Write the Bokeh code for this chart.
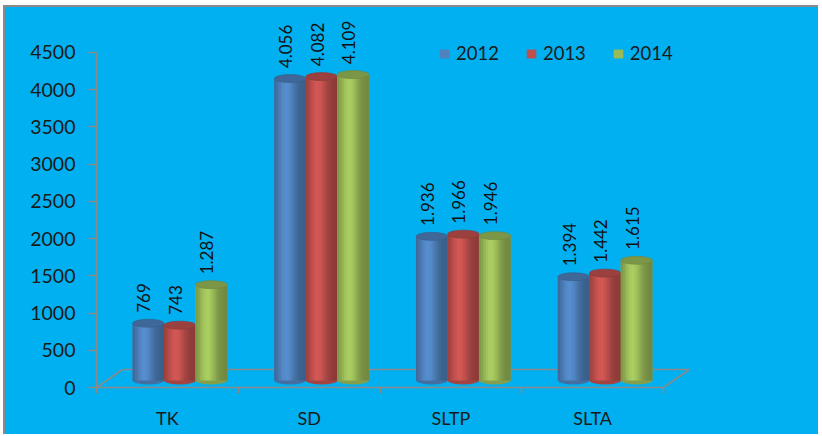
import math
from bokeh.plotting import figure
from bokeh.models import Range1d, FixedTicker, Legend, LegendItem, ColumnDataSource
from bokeh.core.properties import value
from bokeh.embed import file_html
from bokeh.resources import INLINE

categories = ["TK", "SD", "SLTP", "SLTA"]
years = ["2012", "2013", "2014"]
values_2012 = [769, 4056, 1936, 1394]
values_2013 = [743, 4082, 1966, 1442]
values_2014 = [1287, 4109, 1946, 1615]
y_ticks = [0, 500, 1000, 1500, 2000, 2500, 3000, 3500, 4000, 4500]

series = [values_2012, values_2013, values_2014]
base_colors = [(79, 129, 189), (192, 80, 77), (155, 187, 89)]

BG = "#00B0F0"
GREY = "#8a8a8a"
FONT = "Lato"

p = figure(width=815, height=429,
           x_range=Range1d(0, 4.261), y_range=Range1d(0, 5037),
           min_border_left=91, min_border_right=120, min_border_top=5, min_border_bottom=49,
           output_backend="svg", toolbar_location=None)
p.styles = {"margin-left": "3px", "margin-top": "5px", "background-color": BG,
            "border-left": "2px solid #8a8a8a", "border-top": "2px solid #8a8a8a"}
p.background_fill_alpha = 0
p.border_fill_alpha = 0
p.outline_line_color = None
p.grid.visible = False

# floor (3D base)
depth_x = 0.183
depth_y = 242
p.segment(x0=[0, depth_x, 4], y0=[0, depth_y, 0],
          x1=[depth_x, 4 + depth_x, 4 + depth_x], y1=[depth_y, depth_y, depth_y],
          line_color=GREY, line_width=1.6)

def shade(rgb, m):
    return "#%02x%02x%02x" % tuple(max(0, min(255, int(round(c * m)))) for c in rgb)

def mult(t):
    return 0.72 + 0.38 * math.exp(-((t - 0.38) / 0.30) ** 2)

bar_w = 0.222
shift = 0.088
base = 94
N = 14

legend_renderers = []
for si, (vals, rgb) in enumerate(zip(series, base_colors)):
    off = (si - 1) * bar_w
    xs = [i + 0.5 + shift + off for i in range(len(categories))]
    tops = [base + v for v in vals]
    src = ColumnDataSource(dict(x=xs, top=tops, bottom=[base] * len(xs)))
    r = p.vbar(x="x", top="top", bottom="bottom", width=bar_w, source=src,
               fill_color=shade(rgb, 1.0), line_color=None)
    legend_renderers.append(r)
    p.ellipse(x=xs, y=[base] * len(xs), width=bar_w, height=8, height_units="screen",
              fill_color=shade(rgb, 0.85), line_color=None)
    for k in range(N):
        t = (k + 0.5) / N
        sx = [x - bar_w / 2 + t * bar_w for x in xs]
        p.vbar(x=sx, top=tops, bottom=[base] * len(xs), width=bar_w / N * 1.15,
               fill_color=shade(rgb, mult(t)), line_color=None)
    p.ellipse(x=xs, y=tops, width=bar_w, height=8, height_units="screen",
              fill_color=shade(rgb, 0.80), line_color=shade(rgb, 0.72), line_width=0.6)
    labels = ["{:,}".format(v).replace(",", ".") for v in vals]
    p.text(x=[x - 0.032 for x in xs], y=[t + 140 for t in tops], text=labels,
           angle=math.pi / 2, text_align="left", text_baseline="middle",
           text_font=value(FONT), text_font_size="17px", text_color="#111111")

p.yaxis.ticker = FixedTicker(ticks=y_ticks)
p.yaxis.bounds = (0, 4500)
p.yaxis.axis_line_color = GREY
p.yaxis.axis_line_width = 1.6
p.yaxis.major_tick_line_color = GREY
p.yaxis.major_tick_line_width = 1.6
p.yaxis.major_tick_out = 8
p.yaxis.major_tick_in = 0
p.yaxis.minor_tick_line_color = None
p.yaxis.major_label_standoff = 13
p.yaxis.major_label_text_font = FONT
p.yaxis.major_label_text_font_size = "19.5px"
p.yaxis.major_label_text_color = "#1a1a1a"

p.xaxis.ticker = FixedTicker(ticks=[i + 0.5 for i in range(len(categories))],
                             minor_ticks=list(range(len(categories) + 1)))
p.xaxis.major_label_overrides = {i + 0.5: c for i, c in enumerate(categories)}
p.xaxis.bounds = (0, 4)
p.xaxis.axis_line_color = GREY
p.xaxis.axis_line_width = 1.6
p.xaxis.major_tick_line_color = None
p.xaxis.major_tick_out = 5
p.xaxis.minor_tick_line_color = GREY
p.xaxis.minor_tick_line_width = 1.6
p.xaxis.minor_tick_out = 6
p.xaxis.minor_tick_in = 0
p.xaxis.major_label_standoff = 13
p.xaxis.major_label_text_font = FONT
p.xaxis.major_label_text_font_size = "18px"
p.xaxis.major_label_text_color = "#1a1a1a"

legend = Legend(items=[LegendItem(label=y, renderers=[r]) for y, r in zip(years, legend_renderers)],
                orientation="horizontal", location=(342, 323),
                padding=0, margin=0, spacing=26, label_standoff=6,
                glyph_width=12, glyph_height=11, label_height=20,
                label_text_font=FONT, label_text_font_size="18.5px", label_text_color="#1a1a1a",
                background_fill_alpha=0, border_line_color=None)
p.add_layout(legend)

open("out.html", "w").write(file_html(p, INLINE))
